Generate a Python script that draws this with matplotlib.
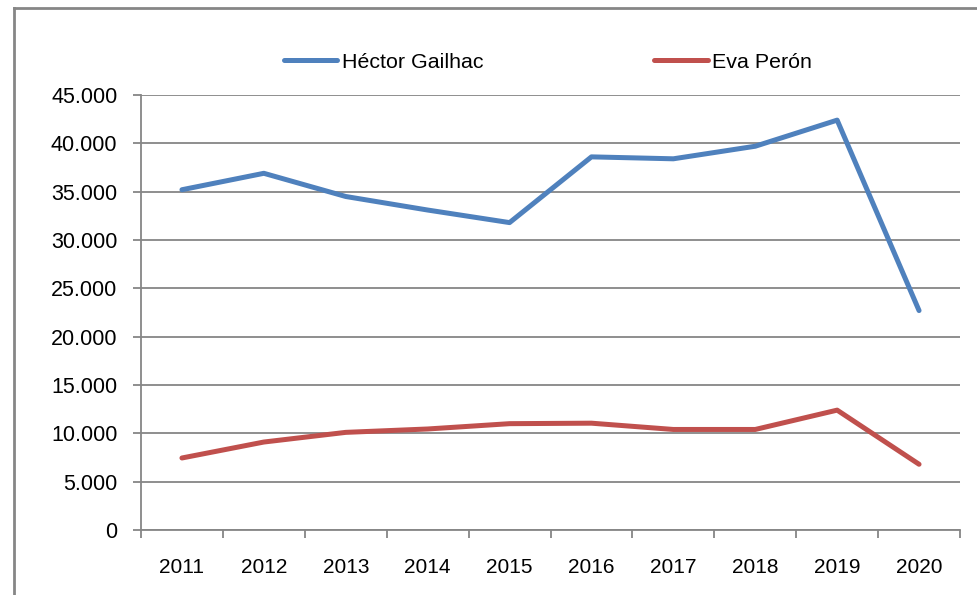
import matplotlib.pyplot as plt
from matplotlib.lines import Line2D
from matplotlib.ticker import FuncFormatter

plt.rcParams['font.family'] = ['Liberation Sans', 'DejaVu Sans']

years = ['2011', '2012', '2013', '2014', '2015', '2016', '2017', '2018', '2019', '2020']
hector = [35200, 36900, 34500, 33100, 31800, 38600, 38400, 39700, 42400, 22700]
eva = [7450, 9100, 10100, 10450, 11000, 11050, 10400, 10400, 12400, 6800]

blue = '#4F81BD'
red = '#C0504D'
grey = '#868686'

fig = plt.figure(figsize=(9.78, 5.95), dpi=100)
ax = fig.add_axes([141/978, 1 - 530/595, (960 - 141)/978, (530 - 95)/595])

x = range(len(years))
ax.plot(x, hector, color=blue, lw=3.6, label='Héctor Gailhac', solid_capstyle='round')
ax.plot(x, eva, color=red, lw=3.6, label='Eva Perón', solid_capstyle='round')

ax.set_xlim(-0.5, len(years) - 0.5)
ax.set_ylim(0, 45000)
ax.set_yticks(range(0, 45001, 5000))
ax.yaxis.set_major_formatter(FuncFormatter(lambda v, p: f'{int(v):,}'.replace(',', '.')))
ax.grid(axis='y', color=grey, lw=1.3)
ax.set_axisbelow(True)

ax.set_xticks(list(x))
ax.set_xticklabels(years)
ax.set_xticks([i - 0.5 for i in range(len(years) + 1)], minor=True)
ax.tick_params(axis='x', which='major', length=0, pad=20, labelsize=15)
ax.tick_params(axis='x', which='minor', length=6, width=1.3, color=grey)
ax.tick_params(axis='y', length=6, width=1.3, color=grey, pad=11, labelsize=15.5)

for s in ['top', 'right']:
    ax.spines[s].set_visible(False)
for s in ['left', 'bottom']:
    ax.spines[s].set_color(grey)
    ax.spines[s].set_linewidth(1.3)

fig.legend(loc='center', bbox_to_anchor=(548/978, 1 - 62/595), ncol=2, frameon=False,
           fontsize=15.4, handlelength=2.5, handletextpad=0.2, columnspacing=8.0)

# outer chart border
fig.add_artist(Line2D([14/978, 14/978], [0, 1 - 8/595], color=grey, lw=2, transform=fig.transFigure))
fig.add_artist(Line2D([14/978, 1], [1 - 8/595, 1 - 8/595], color=grey, lw=2, transform=fig.transFigure))

fig.savefig('out.png', dpi=100)
